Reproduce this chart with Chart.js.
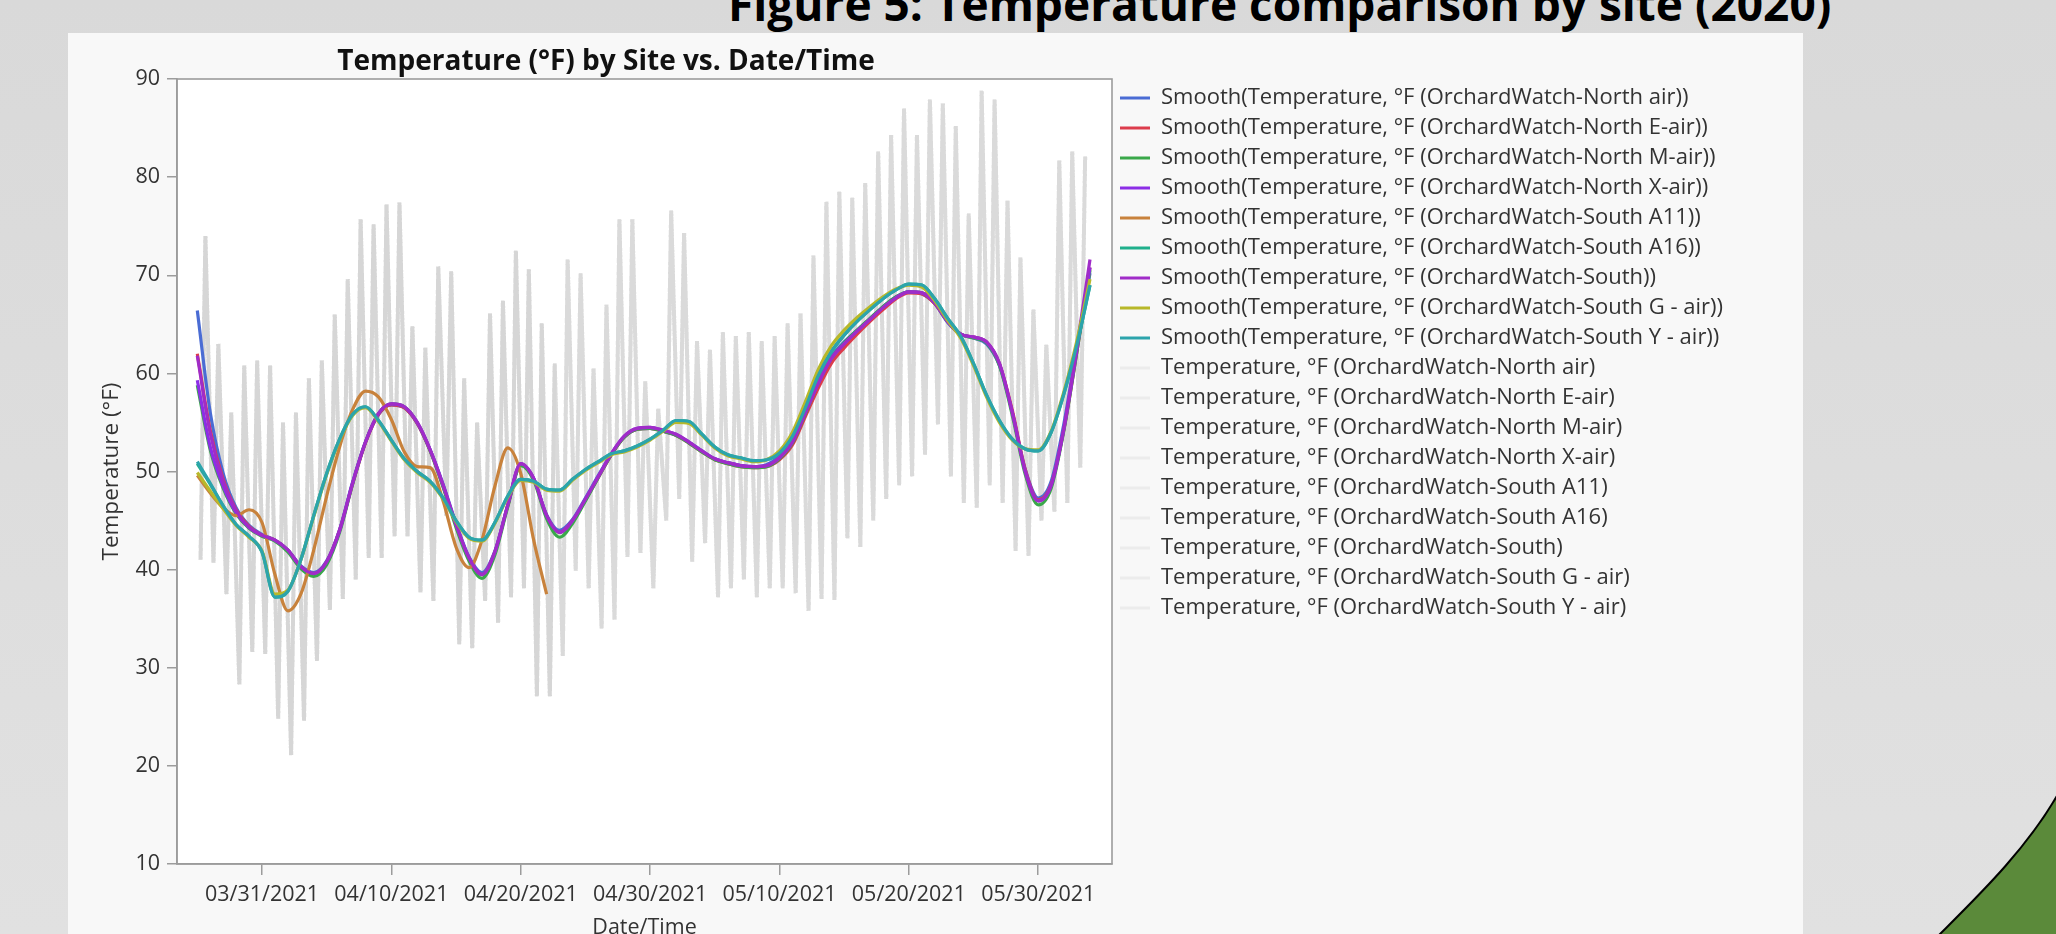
<!DOCTYPE html>
<html>
<head>
<meta charset="utf-8">
<script src="https://cdn.jsdelivr.net/npm/chart.js@4.4.1/dist/chart.umd.min.js"></script>
<style>
  html, body { margin: 0; padding: 0; }
  body {
    width: 2056px; height: 934px; overflow: hidden; position: relative;
    background: linear-gradient(#d9d9d9, #e1e1e1);
    font-family: "Open Sans", sans-serif;
  }
  #header {
    position: absolute; left: 728px; top: -20px;
    font-size: 46px; line-height: 46px; font-weight: bold; color: #000;
    white-space: nowrap;
  }
  #panel {
    position: absolute; left: 68px; top: 33px; width: 1735px; height: 901px;
    background: #f8f8f8; overflow: hidden;
  }
  #chartTitle {
    position: absolute; left: 238px; top: 8px; width: 600px; height: 36px;
    text-align: center; font-size: 28px; line-height: 36px; font-weight: bold; color: #111;
    white-space: nowrap;
  }
  #chart { position: absolute; left: 0; top: 0; }
  #corner { position: absolute; left: 0; top: 0; }
</style>
</head>
<body>
<div id="header">Figure 5: Temperature comparison by site (2020)</div>
<div id="panel">
  <canvas id="chart" width="1735" height="960"></canvas>
  <div id="chartTitle">Temperature (°F) by Site vs. Date/Time</div>
</div>
<svg id="corner" width="2056" height="934">
  <path d="M1938,936 C1978,896 2026,850 2058,794 L2058,936 Z" fill="#5b8a3a" stroke="#000" stroke-width="2"/>
</svg>
<script>
/* ---------- sites, colours ---------- */
const siteNames = [
  "OrchardWatch-North air", "OrchardWatch-North E-air", "OrchardWatch-North M-air",
  "OrchardWatch-North X-air", "OrchardWatch-South A11", "OrchardWatch-South A16",
  "OrchardWatch-South", "OrchardWatch-South G - air", "OrchardWatch-South Y - air"
];
const siteColors = ["#4a6cd4", "#dc3c4c", "#3aa84a", "#8c2ee6", "#c8823c",
                    "#20b08c", "#a02cc8", "#b8b82a", "#2ca4ac"];

/* ---------- x axis ---------- */
const xTickDates  = ["2021-03-31", "2021-04-10", "2021-04-20", "2021-04-30", "2021-05-10", "2021-05-20", "2021-05-30"];
const xTickLabels = ["03/31/2021", "04/10/2021", "04/20/2021", "04/30/2021", "05/10/2021", "05/20/2021", "05/30/2021"];
const xRange = ["2021-03-24T10:20:00Z", "2021-06-04T16:50:00Z"];

/* ---------- smoothed curves (one value per day, 03/26 .. 06/03) ---------- */
const smoothDates = [
  "2021-03-26","2021-03-27","2021-03-28","2021-03-29","2021-03-30","2021-03-31",
  "2021-04-01","2021-04-02","2021-04-03","2021-04-04","2021-04-05","2021-04-06","2021-04-07","2021-04-08","2021-04-09","2021-04-10",
  "2021-04-11","2021-04-12","2021-04-13","2021-04-14","2021-04-15","2021-04-16","2021-04-17","2021-04-18","2021-04-19","2021-04-20",
  "2021-04-21","2021-04-22","2021-04-23","2021-04-24","2021-04-25","2021-04-26","2021-04-27","2021-04-28","2021-04-29","2021-04-30",
  "2021-05-01","2021-05-02","2021-05-03","2021-05-04","2021-05-05","2021-05-06","2021-05-07","2021-05-08","2021-05-09","2021-05-10",
  "2021-05-11","2021-05-12","2021-05-13","2021-05-14","2021-05-15","2021-05-16","2021-05-17","2021-05-18","2021-05-19","2021-05-20",
  "2021-05-21","2021-05-22","2021-05-23","2021-05-24","2021-05-25","2021-05-26","2021-05-27","2021-05-28","2021-05-29","2021-05-30",
  "2021-05-31","2021-06-01","2021-06-02","2021-06-03"
];
const smoothNorthAir = [66.4,56.0,49.8,46.3,44.5,43.6, 43.0,42.0,40.4,39.7,40.9,44.1,48.9,53.0,55.8,56.8, 56.5,54.9,52.2,48.7,44.7,41.3,39.7,41.9,46.6,50.7, 49.3,45.6,44.0,45.1,47.3,49.6,51.8,53.5,54.3,54.4, 54.1,53.7,53.0,52.1,51.3,50.9,50.6,50.5,50.7,51.6, 53.3,56.3,59.3,61.7,63.2,64.4,65.6,66.8,67.8,68.3, 68.1,67.1,65.2,64.0,63.6,63.0,60.8,56.0,50.2,47.3, 49.0,55.0,62.8,70.2];
const smoothNorthE   = [62.0,54.2,49.2,46.1,44.4,43.5, 43.0,42.0,40.3,39.6,40.8,44.0,48.7,52.9,55.8,56.8, 56.5,54.9,52.1,48.5,44.5,41.1,39.5,41.8,46.5,50.7, 49.2,45.5,43.8,45.0,47.1,49.4,51.7,53.5,54.3,54.4, 54.1,53.7,52.9,52.0,51.2,50.8,50.5,50.4,50.5,51.2, 52.7,55.6,58.5,61.0,62.6,64.0,65.3,66.5,67.6,68.2, 68.1,67.1,65.3,64.0,63.7,63.2,61.0,56.2,50.2,47.1, 48.7,54.4,62.3,70.8];
const smoothNorthM   = [58.8,52.2,48.3,45.7,44.2,43.4, 42.9,41.8,40.1,39.3,40.5,43.8,48.7,53.0,55.9,56.9, 56.6,55.0,52.1,48.4,44.3,40.9,39.1,41.5,46.4,50.6, 49.1,45.2,43.3,44.7,47.0,49.4,51.7,53.5,54.3,54.4, 54.1,53.7,52.9,52.0,51.2,50.8,50.5,50.4,50.5,51.3, 52.9,55.9,59.0,61.5,63.1,64.4,65.6,66.8,67.8,68.3, 68.2,67.2,65.3,64.0,63.6,63.1,60.8,55.7,49.7,46.6, 48.3,54.3,62.3,70.5];
const smoothNorthX   = [59.3,52.5,48.5,45.8,44.3,43.5, 43.0,42.0,40.3,39.6,40.8,44.0,48.8,53.0,55.9,56.9, 56.6,55.0,52.2,48.6,44.6,41.2,39.5,41.8,46.6,50.8, 49.3,45.5,43.8,45.0,47.2,49.5,51.8,53.6,54.4,54.5, 54.2,53.8,53.0,52.1,51.3,50.9,50.6,50.5,50.6,51.4, 53.0,56.0,59.0,61.5,63.0,64.3,65.5,66.7,67.7,68.3, 68.2,67.2,65.3,64.0,63.7,63.2,61.0,56.0,50.0,47.0, 48.6,54.5,62.5,70.8];
const smoothSouthA11 = [49.6,47.8,46.3,45.5,46.1,44.8, 39.5,35.8,37.5,42.0,47.5,52.5,56.3,58.2,57.6,55.3, 52.0,50.5,50.4,47.0,42.3,40.2,43.0,48.5,52.4,49.8, 43.0,37.5];
const smoothSouthA16 = [50.8,48.7,46.5,44.6,43.4,41.8, 37.2,37.8,41.0,45.5,49.8,53.3,55.8,56.6,55.2,53.2, 51.3,50.0,49.0,47.3,45.0,43.3,43.0,44.8,47.5,49.2, 49.0,48.2,48.1,49.2,50.2,51.0,51.8,52.1,52.6,53.3, 54.2,55.2,55.1,53.8,52.5,51.7,51.4,51.1,51.2,51.9, 53.6,56.5,59.8,62.2,63.9,65.3,66.5,67.6,68.5,69.1, 69.0,67.6,65.6,63.8,61.0,57.8,55.2,53.3,52.3,52.1, 54.0,58.0,63.0,69.0];
const smoothSouth    = [61.8,53.9,49.0,46.0,44.3,43.5, 43.0,42.0,40.3,39.6,40.8,44.0,48.8,53.0,55.9,56.9, 56.6,55.0,52.2,48.6,44.6,41.2,39.5,41.8,46.6,50.8, 49.3,45.5,43.8,45.0,47.2,49.5,51.8,53.6,54.4,54.5, 54.2,53.8,53.0,52.1,51.3,50.9,50.6,50.5,50.6,51.4, 53.0,56.0,59.0,61.5,63.0,64.3,65.5,66.7,67.7,68.3, 68.2,67.2,65.3,64.0,63.7,63.2,61.0,56.0,50.0,47.0, 48.6,54.5,62.8,71.6];
const smoothSouthG   = [49.9,48.0,46.2,44.5,43.3,41.9, 37.5,37.9,41.0,45.4,49.7,53.2,55.7,56.5,55.1,53.1, 51.2,49.9,48.9,47.2,44.9,43.2,42.9,44.7,47.4,49.1, 48.9,48.1,48.0,49.1,50.1,50.9,51.7,52.0,52.5,53.2, 54.1,55.0,54.9,53.7,52.4,51.6,51.3,51.0,51.2,52.1, 54.0,57.1,60.4,62.8,64.4,65.7,66.8,67.8,68.6,69.0, 68.8,67.4,65.4,63.6,60.8,57.6,55.0,53.2,52.3,52.2, 54.1,58.2,63.4,69.6];
const smoothSouthY   = [51.0,48.8,46.5,44.6,43.4,41.8, 37.2,37.8,41.0,45.5,49.8,53.3,55.8,56.6,55.2,53.2, 51.3,50.0,49.0,47.3,45.0,43.3,43.0,44.8,47.5,49.2, 49.0,48.2,48.1,49.2,50.2,51.0,51.8,52.1,52.6,53.3, 54.2,55.2,55.1,53.8,52.5,51.7,51.4,51.1,51.2,51.9, 53.6,56.5,59.8,62.2,63.9,65.3,66.5,67.6,68.5,69.1, 69.0,67.6,65.6,63.8,61.0,57.8,55.2,53.3,52.3,52.1, 54.0,58.0,63.0,69.0];
const smoothSeries = [smoothNorthAir, smoothNorthE, smoothNorthM, smoothNorthX, smoothSouthA11,
                      smoothSouthA16, smoothSouth, smoothSouthG, smoothSouthY];

/* ---------- raw readings: daily low (~06:00) and high (~15:00), 03/26 .. 06/02 ---------- */
const rawDates = smoothDates.slice(0, 69);
const rawLow  = [41.0,40.7,37.5,28.3,31.6,31.4, 24.8,21.1,24.6,30.7,35.9,37.0,39.0,41.2,41.2,43.4, 43.4,37.7,36.8,45.5,32.4,32.0,36.8,34.6,37.2,38.1, 27.1,27.1,31.2,39.9,38.1,34.0,34.9,41.3,41.7,38.1, 45.0,47.2,40.8,42.7,37.2,38.1,39.0,37.2,38.1,38.1, 37.6,35.8,37.0,36.9,43.2,42.3,45.0,47.2,48.6,49.5, 51.7,54.8,49.5,46.8,46.3,48.6,46.8,41.9,41.4,45.0, 45.9,46.8,50.4];
const rawHigh = [74.0,63.0,56.0,60.8,61.3,60.8, 55.0,56.0,59.5,61.3,66.0,69.6,75.7,75.2,77.2,77.4, 64.8,62.6,70.9,70.4,59.5,55.0,66.1,67.4,72.5,70.6, 65.1,61.0,71.6,70.2,60.5,67.0,75.7,75.7,59.2,56.4, 76.6,74.3,63.3,62.4,64.2,63.8,64.2,63.3,63.8,65.1, 66.1,72.0,77.5,78.5,77.9,79.4,82.6,84.3,87.0,84.3, 87.9,87.5,85.2,76.3,88.8,87.9,77.6,71.8,66.5,62.9, 81.7,82.6,82.1];

const HOUR = 3600000;
const toX = s => Date.parse(s.length === 10 ? s + "T00:00:00Z" : s);

function smoothPoints(vals) {
  return vals.map((v, i) => ({ x: toX(smoothDates[i]), y: v }));
}
function rawPoints(days) {
  const pts = [];
  for (let i = 0; i < days; i++) {
    const t = toX(rawDates[i]);
    pts.push({ x: t + 6 * HOUR, y: rawLow[i] });
    pts.push({ x: t + 15 * HOUR, y: rawHigh[i] });
  }
  return pts;
}

const datasets = [];
siteNames.forEach((name, i) => {
  datasets.push({
    label: `Smooth(Temperature, °F (${name}))`,
    data: smoothPoints(smoothSeries[i]),
    borderColor: siteColors[i],
    legendColor: siteColors[i],
    borderWidth: 3.2,
    pointRadius: 0,
    cubicInterpolationMode: "monotone",
    order: 50 - i
  });
});
siteNames.forEach((name, i) => {
  // the A11 logger stops on 04/22 like its smoothed curve
  const days = name.endsWith("A11") ? smoothSouthA11.length : rawDates.length;
  datasets.push({
    label: `Temperature, °F (${name})`,
    data: rawPoints(days),
    borderColor: "rgba(140,140,140,0.047)",
    legendColor: "#ececec",
    borderWidth: 4,
    pointRadius: 0,
    tension: 0,
    order: 100 - i
  });
});

const fontFamily = '"Open Sans", sans-serif';
const textColor = "#333";
const axisColor = "#9c9c9c";
const plotRight = 1044;   // right edge of the plot frame inside the canvas

const plotFrame = {
  id: "plotFrame",
  beforeDraw(chart) {
    const { ctx, chartArea: a } = chart;
    ctx.save();
    ctx.fillStyle = "#ffffff";
    ctx.fillRect(a.left, a.top, a.right - a.left, a.bottom - a.top);
    ctx.restore();
  },
  afterDraw(chart) {
    const { ctx, chartArea: a } = chart;
    ctx.save();
    ctx.strokeStyle = axisColor;
    ctx.lineWidth = 1.6;
    ctx.strokeRect(a.left, a.top, a.right - a.left, a.bottom - a.top);
    ctx.restore();
  }
};

function draw() {
  const chart = new Chart(document.getElementById("chart"), {
    type: "line",
    data: { datasets },
    plugins: [plotFrame],
    options: {
      responsive: false,
      animation: false,
      events: [],
      layout: { padding: { top: 46, left: 0, right: 0, bottom: 52 } },
      plugins: {
        title: { display: false },
        tooltip: { enabled: false },
        legend: {
          position: "right",
          align: "start",
          maxWidth: 900,
          labels: {
            boxWidth: 30,
            boxHeight: 3,
            padding: 8,
            color: textColor,
            font: { size: 22, family: fontFamily },
            sort: (a, b) => a.datasetIndex - b.datasetIndex,
            generateLabels(chart) {
              return Chart.defaults.plugins.legend.labels.generateLabels(chart).map(item => ({
                ...item,
                fillStyle: chart.data.datasets[item.datasetIndex].legendColor,
                strokeStyle: "rgba(0,0,0,0)",
                lineWidth: 0
              }));
            }
          }
        }
      },
      scales: {
        x: {
          type: "linear",
          min: toX(xRange[0]),
          max: toX(xRange[1]),
          afterBuildTicks(scale) {
            scale.ticks = xTickDates.map(d => ({ value: toX(d) }));
          },
          afterFit(scale) { scale.height = 77; },
          ticks: {
            autoSkip: false,
            maxRotation: 0,
            padding: 7,
            color: textColor,
            font: { size: 21.5, family: fontFamily },
            callback: (value, index) => xTickLabels[index]
          },
          grid: { drawOnChartArea: false, drawTicks: true, tickLength: 11, color: axisColor, lineWidth: 1.5 },
          border: { display: true, color: axisColor, width: 1.6 },
          title: {
            display: true, text: "Date/Time", color: textColor,
            font: { size: 21.5, family: fontFamily }, padding: { top: 0, bottom: 0 }
          }
        },
        y: {
          min: 10,
          max: 90,
          afterFit(scale) { scale.width = 109; },
          ticks: {
            stepSize: 10,
            padding: 7,
            color: textColor,
            font: { size: 21.5, family: fontFamily }
          },
          grid: { drawOnChartArea: false, drawTicks: true, tickLength: 10, color: axisColor, lineWidth: 1.5 },
          border: { display: true, color: axisColor, width: 1.6 },
          title: {
            display: true, text: "Temperature (°F)", color: textColor,
            font: { size: 22.5, family: fontFamily }, padding: { top: 30, bottom: 0 }
          }
        }
      }
    }
  });
  // shift the legend/plot split so the frame ends where the reference's does
  chart.options.layout.padding.right = Math.max(0, chart.chartArea.right - plotRight);
  chart.update();
}

Promise.all([
  document.fonts.load('21px "Open Sans"'),
  document.fonts.load('bold 28px "Open Sans"')
]).then(draw, draw);
</script>
</body>
</html>
